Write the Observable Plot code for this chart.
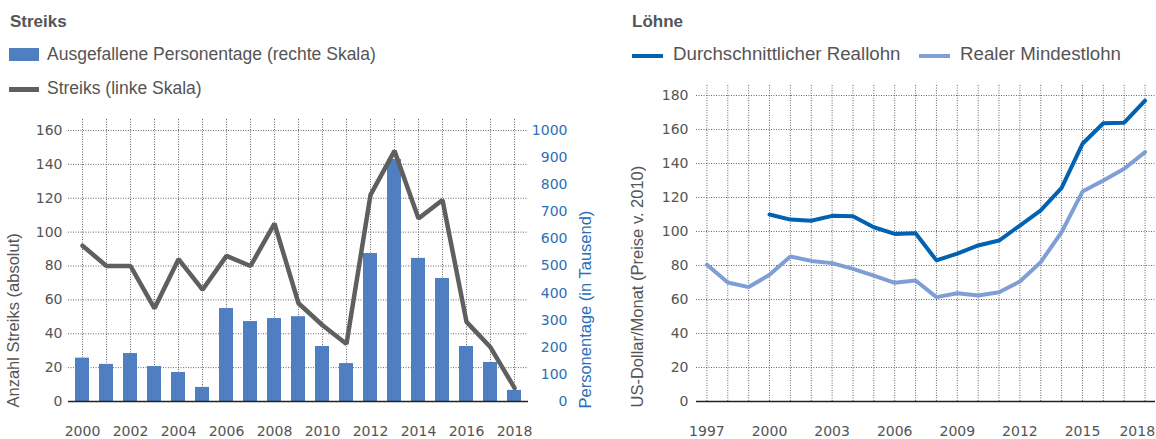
<!DOCTYPE html>
<html><head><meta charset="utf-8">
<script src="https://cdn.jsdelivr.net/npm/d3@7"></script>
<script src="https://cdn.jsdelivr.net/npm/@observablehq/plot@0.6"></script>
<style>
body{margin:0;background:#fff;font-family:"Liberation Sans",Arial,sans-serif;color:#555;}
#root{position:relative;width:1156px;height:439px;overflow:hidden;}
.abs{position:absolute;}
.title{font-weight:bold;font-size:17px;line-height:17px;color:#555;}
.leg{font-size:17.5px;line-height:18px;height:18px;display:flex;align-items:center;white-space:nowrap;color:#555;}
.leg.r{font-size:18.7px;}
.sw-bar{width:30px;height:13px;background:#4f7fc0;margin-right:8px;}
.sw-line{width:30px;height:4.5px;margin-right:8px;position:relative;top:1.5px;}
svg{display:block;}
</style></head>
<body><div id="root">
<div class="abs title" style="left:10px;top:13px;">Streiks</div>
<div class="abs leg" style="left:9px;top:45px;"><span class="sw-bar"></span>Ausgefallene Personentage (rechte Skala)</div>
<div class="abs leg" style="left:9px;top:79px;"><span class="sw-line" style="background:#5f5f5f"></span>Streiks (linke Skala)</div>
<div class="abs title" style="left:632px;top:13px;">Löhne</div>
<div class="abs leg r" style="left:632px;top:45px;"><span class="sw-line" style="background:#0062b0;width:31px;margin-right:10px;height:4px;top:2px"></span>Durchschnittlicher Reallohn</div>
<div class="abs leg r" style="left:919px;top:45px;"><span class="sw-line" style="background:#7f9ed6;width:31px;margin-right:10px;height:4px;top:2px"></span>Realer Mindestlohn</div>
<div class="abs" id="left" style="left:0;top:110px;"></div>
<div class="abs" id="right" style="left:600px;top:75px;"></div>
</div>
<script>
// ---- Streiks data ----
const strikeYears = [2000,2001,2002,2003,2004,2005,2006,2007,2008,2009,2010,2011,2012,2013,2014,2015,2016,2017,2018];
const strikes = [92,80,80,55,84,66,86,80,105,58,45,34,122,148,108,119,47,32,8];
const personDays = [160,137,177,129,107,52,343,295,306,313,203,140,546,893,528,454,203,144,41];
const strikeTicks = [0,20,40,60,80,100,120,140,160];
const dayTicks = [0,100,200,300,400,500,600,700,800,900,1000];
const strikeLabelYears = [2000,2002,2004,2006,2008,2010,2012,2014,2016,2018];

// ---- Löhne data ----
const wageYears = [1997,1998,1999,2000,2001,2002,2003,2004,2005,2006,2007,2008,2009,2010,2011,2012,2013,2014,2015,2016,2017,2018];
const minWage = [80.4,70,67.3,74.5,85.3,82.7,81.4,78,74,69.8,71.2,61.4,63.7,62.4,64.3,70.6,82,99.6,123.5,130,136.9,146.7];
const realWageYears = [2000,2001,2002,2003,2004,2005,2006,2007,2008,2009,2010,2011,2012,2013,2014,2015,2016,2017,2018];
const realWage = [110,107,106.3,109.2,109,102.5,98.6,99,83,87,91.8,94.7,103.5,112.4,125.7,151.6,163.7,164,177];
const wageTicks = [0,20,40,60,80,100,120,140,160,180];
const wageLabelYears = [1997,2000,2003,2006,2009,2012,2015];
const wageLastLabel = [2018];

const strikeTable = strikeYears.map((year,i)=>({year, strikes: strikes[i], days: personDays[i]}));
const minTable = wageYears.map((year,i)=>({year, value: minWage[i]}));
const realTable = realWageYears.map((year,i)=>({year, value: realWage[i]}));

const ratio = 160/1000;
const gridStyle = {stroke:"#666", strokeOpacity:1, strokeDasharray:"1,1.5", strokeWidth:1};

const left = Plot.plot({
  width:610, height:329, marginLeft:68, marginRight:82, marginTop:20, marginBottom:38,
  style:{fontFamily:"DejaVu Sans", fontSize:"14px", color:"#555", background:"transparent"},
  x:{type:"band", domain:strikeYears, paddingInner:0.42, paddingOuter:0.21, label:null},
  y:{domain:[0,160], label:null},
  marks:[
    Plot.gridY(strikeTicks, gridStyle),
    Plot.gridX(strikeYears, {...gridStyle, insetTop:-11}),
    Plot.barY(strikeTable, {x:"year", y:d=>d.days*ratio, fill:"#4f7fc0"}),
    Plot.ruleY([0], {stroke:"#222", strokeWidth:1.5}),
    Plot.line(strikeTable, {x:"year", y:"strikes", stroke:"#5f5f5f", strokeWidth:4.5, strokeLinejoin:"miter"}),
    Plot.axisY(strikeTicks, {tickSize:0, tickPadding:6, label:null}),
    Plot.axisX(strikeLabelYears, {tickSize:0, tickPadding:25, label:null, tickFormat:d=>String(d)}),
    Plot.text(dayTicks, {frameAnchor:"right", y:d=>d*ratio, text:d=>String(d), textAnchor:"end", dx:39, fill:"#2a6fb7"}),
    Plot.text(["Anzahl Streiks (absolut)"], {frameAnchor:"bottom-left", text:d=>d, rotate:-90, textAnchor:"start", dx:-50, dy:6, fontSize:16.5, fontFamily:"Liberation Sans", fill:"#555"}),
    Plot.text(["Personentage (in Tausend)"], {frameAnchor:"bottom-right", text:d=>d, rotate:-90, textAnchor:"start", dx:62, dy:7, fontSize:16.5, fontFamily:"Liberation Sans", fill:"#2a6fb7"})
  ]
});
document.getElementById("left").appendChild(left);

const right = Plot.plot({
  width:556, height:364, marginLeft:96, marginRight:1, marginTop:20, marginBottom:38,
  style:{fontFamily:"DejaVu Sans", fontSize:"14px", color:"#555", background:"transparent"},
  x:{domain:[1996.5,2018.5], label:null},
  y:{domain:[0,180], label:null},
  marks:[
    Plot.gridY(wageTicks, gridStyle),
    Plot.gridX(wageYears, {...gridStyle, insetTop:-10}),
    Plot.ruleY([0], {stroke:"#222", strokeWidth:1.5}),
    Plot.line(minTable, {x:"year", y:"value", stroke:"#7f9ed6", strokeWidth:4, strokeLinejoin:"miter"}),
    Plot.line(realTable, {x:"year", y:"value", stroke:"#0062b0", strokeWidth:4, strokeLinejoin:"miter"}),
    Plot.axisY(wageTicks, {tickSize:0, tickPadding:8, label:null}),
    Plot.axisX(wageLabelYears, {tickSize:0, tickPadding:25, label:null, tickFormat:d=>String(d)}),
    Plot.axisX(wageLastLabel, {tickSize:0, tickPadding:25, label:null, tickFormat:d=>String(d), textAnchor:"end", dx:10}),
    Plot.text(["US-Dollar/Monat (Preise v. 2010)"], {frameAnchor:"bottom-left", text:d=>d, rotate:-90, textAnchor:"start", dx:-54, dy:6, fontSize:16.5, fontFamily:"Liberation Sans", fill:"#555"})
  ]
});
document.getElementById("right").appendChild(right);
</script>
</body></html>
